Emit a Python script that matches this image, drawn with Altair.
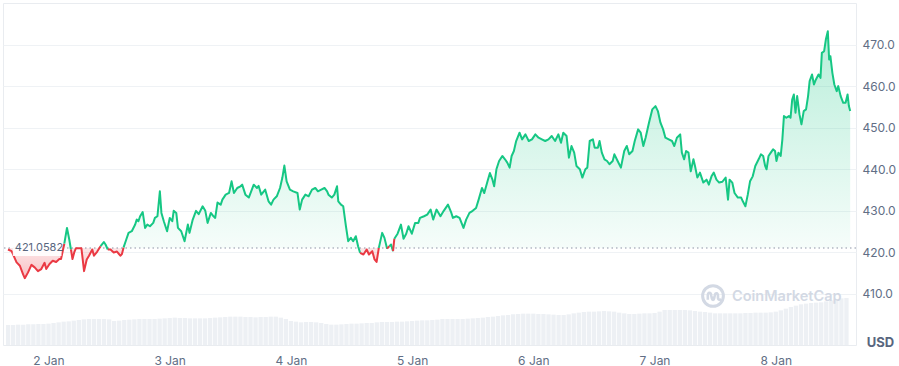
import altair as alt
import pandas as pd

BASE = 421.0582
GREEN = "#16c784"
RED = "#ea3943"
LABEL = "#616e85"

# hours since 1 Jan 00:00
hours = [15.98,16.70,17.68,18.33,18.97,19.30,19.95,20.62,21.26,21.91,22.57,23.22,23.55,24.20,24.84,25.51,26.15,26.48,27.13,27.66,28.11,28.44,28.75,29.09,29.42,30.07,30.52,31.04,31.57,32.02,32.67,33.00,33.65,34.31,34.96,35.29,35.74,36.27,36.91,37.56,38.22,38.54,38.87,39.40,39.85,40.49,41.16,41.47,41.80,42.14,42.65,43.12,43.57,44.09,44.74,45.07,45.57,46.05,46.36,46.83,47.48,48.01,48.51,48.79,49.30,49.63,50.28,50.94,51.59,51.92,52.56,53.21,53.74,54.52,55.05,55.50,56.15,56.67,57.01,57.46,58.10,58.43,59.08,59.75,60.25,60.72,61.37,62.01,62.35,62.99,63.66,64.64,65.28,65.61,66.12,66.91,67.57,68.08,68.55,69.20,69.84,70.31,70.70,71.15,71.80,72.46,73.30,73.75,74.22,74.87,75.51,76.18,76.83,77.35,78.00,78.65,79.17,79.43,80.09,80.60,81.13,81.38,81.91,82.36,82.89,83.34,83.87,84.32,84.85,85.30,85.69,86.36,87.00,87.45,88.11,88.56,88.96,89.41,90.07,90.52,91.05,91.50,91.83,92.22,92.48,93.12,93.79,94.30,94.83,95.28,95.94,96.59,97.23,97.56,98.35,98.99,99.66,100.17,100.83,101.61,102.26,103.10,103.77,104.08,104.74,105.39,106.17,106.70,107.35,107.99,108.66,109.17,109.83,110.28,110.93,111.40,111.91,112.24,112.69,113.22,113.86,114.39,114.84,115.31,115.70,116.15,116.60,117.27,117.78,118.44,119.09,119.73,120.40,121.04,121.69,122.35,123.00,123.64,124.31,124.95,125.48,125.93,126.58,127.05,127.56,128.09,128.54,129.21,129.71,130.30,130.69,131.16,131.80,132.14,132.78,133.11,133.56,134.09,134.60,135.07,135.71,136.05,136.69,137.34,138.00,138.51,138.98,139.63,140.08,140.75,141.26,141.78,142.23,142.90,143.55,144.19,144.66,145.17,145.70,146.15,146.81,147.46,147.91,148.43,149.08,149.41,149.86,150.25,150.72,151.17,151.70,152.01,152.48,152.99,153.66,154.30,154.75,155.28,155.73,156.26,156.79,157.43,158.08,158.55,158.86,159.39,159.84,160.50,161.15,161.48,161.99,162.46,162.91,163.44,163.95,164.61,165.06,165.51,165.90,166.18,166.57,167.02,167.47,167.86,168.14,168.53,168.98,169.31,169.62,170.09,170.60,170.93,171.26,171.58,171.91,172.24,172.70,173.09,173.54,174.00,174.40,174.71,175.18,175.57,175.96,176.47,176.86,177.13,177.58,177.92,178.31,178.57,178.82,179.21,179.60,180.07,180.38,180.85,181.36,181.83,182.22,182.48,182.74]

prices = [420.7,420.3,417.6,416.8,414.7,413.8,415.2,417.0,416.4,415.5,416.0,417.5,416.0,417.2,418.0,417.7,418.4,418.4,422.1,425.9,423.1,420.7,418.4,420.0,421.0,421.0,421.0,415.5,418.3,419.2,420.7,419.2,420.2,421.5,422.5,421.9,420.7,420.7,420.0,420.2,419.2,419.6,421.2,423.1,424.7,425.1,426.7,427.9,427.5,428.7,429.7,425.9,426.7,426.3,427.1,428.3,428.7,434.7,429.5,427.5,425.1,428.3,427.5,430.0,429.5,425.9,425.1,422.7,426.7,424.7,427.9,430.0,429.2,431.1,430.0,427.1,429.5,428.7,428.3,432.0,431.5,432.7,433.9,434.3,437.1,434.3,435.5,435.9,436.3,433.9,433.2,436.3,435.5,436.0,433.9,435.1,432.3,431.5,432.7,433.5,435.5,438.0,440.9,437.1,435.1,434.7,434.3,430.3,432.7,433.9,433.5,435.1,435.5,434.7,435.1,435.5,434.7,433.9,433.2,433.9,435.9,432.3,431.5,431.1,426.3,422.7,423.5,422.7,423.9,421.5,419.9,419.5,420.7,419.5,420.3,418.3,417.7,421.1,424.7,423.5,420.9,421.5,421.9,420.3,423.3,424.5,426.7,423.3,424.5,426.3,424.5,427.1,427.1,428.3,428.7,429.1,430.3,427.9,430.3,428.7,430.0,431.5,429.5,428.3,428.7,428.3,425.9,427.9,429.5,430.0,430.7,432.7,435.5,434.3,437.1,439.1,437.5,435.9,440.0,442.0,443.2,442.4,441.6,440.4,443.2,444.4,446.8,448.8,447.2,448.4,446.8,447.2,448.4,447.6,447.2,446.8,447.2,448.0,446.8,448.4,446.4,448.8,448.0,442.8,445.6,444.0,440.8,440.0,438.0,440.0,440.4,446.8,447.2,445.2,445.2,446.8,444.0,442.4,442.0,441.2,442.0,443.6,442.0,440.4,444.4,445.6,443.6,444.4,446.8,449.6,448.8,445.6,447.6,451.2,454.4,455.2,454.0,451.2,449.6,447.6,447.2,446.8,445.6,447.6,448.4,444.0,442.4,444.4,444.0,439.5,442.4,440.8,438.0,439.2,436.8,437.5,436.3,438.3,439.2,437.5,436.8,437.0,438.0,432.7,437.5,436.8,434.3,433.2,433.2,432.3,431.1,433.9,437.1,438.3,440.8,442.4,443.6,443.2,440.8,440.0,443.2,444.0,444.8,444.4,442.0,444.0,443.2,447.2,452.8,452.4,452.8,452.4,456.8,458.0,453.6,457.6,453.2,450.8,454.0,454.4,457.6,461.2,462.8,460.4,461.6,462.8,462.0,468.0,468.4,471.2,473.2,466.4,467.2,463.2,460.4,458.8,460.0,457.6,456.0,456.0,458.0,455.2,454.0]

# hourly volume bars (hours 16..182)
vol_hours = list(range(16, 183))
volumes = [60,60,61,61,
           62,62,63,63,64, 66,68,70,71,73, 75,77,78,78,78, 78,77,72,73,75,
           76,77,78,78,78, 78,79,80,81,82, 81,81,80,80,80, 80,81,82,83,84,
           85,85,85,84,84, 83,84,84,85,85, 82,78,72,70,68, 69,69,68,66,63,
           61,61,62,63,64, 64,65,66,66,68, 69,69,69,70,70, 71,72,73,74,74,
           75,76,78,78,78, 78,78,79,80,81, 82,84,85,87,89, 90,92,93,94,94,
           94,93,93,92,91, 90,90,92,95,97, 99,100,100,101,102, 101,100,97,95,93,
           93,94,95,95,96, 100,105,105,105,105, 105,104,102,100,99, 97,95,95,95,95,
           95,95,96,96,97, 97,97,98,100,104, 109,114,118,122,124, 126,127,128,131,134,
           138,140,141]

day_ticks = [24, 48, 72, 96, 120, 144, 168]
price_ticks = [410, 420, 430, 440, 450, 460, 470]
X_DOMAIN = [15.98, 182.9]
Y_DOMAIN = [397.73, 480]

pts = list(zip(hours, prices))
sides = ["up" if p >= BASE else "down" for _, p in pts]

# area table
df = pd.DataFrame({"h": [h for h, _ in pts], "p": [p for _, p in pts]})
df["up"] = df["p"].clip(lower=BASE)
df["dn"] = df["p"].clip(upper=BASE)
df["base"] = BASE

# line table: each run of one side is a path; a run also reaches the next point
line_rows = []
seg = 0
for i, (h, p) in enumerate(pts):
    if i > 0 and sides[i] != sides[i - 1]:
        # close previous run at this point
        line_rows.append(dict(h=h, p=p, side=sides[i - 1], seg=seg))
        seg += 1
    line_rows.append(dict(h=h, p=p, side=sides[i], seg=seg))
ldf = pd.DataFrame(line_rows)

vdf = pd.DataFrame({"h": vol_hours[:len(volumes)], "v": volumes[:len(vol_hours)]})

x_enc = alt.X("h:Q",
              scale=alt.Scale(domain=X_DOMAIN, nice=False, zero=False),
              axis=alt.Axis(values=day_ticks,
                            labelExpr="(floor(datum.value/24)+1) + ' Jan'",
                            grid=False, ticks=False, domain=False,
                            labelColor=LABEL, labelFontSize=12, labelPadding=10,
                            labelFont="Inter", title=None))
y_scale = alt.Scale(domain=Y_DOMAIN, nice=False, zero=False)

y_axis = alt.Axis(orient="right", values=price_ticks, format=".1f",
                  grid=True, gridColor="#eff2f5", gridWidth=1,
                  ticks=False, domain=False, labelColor=LABEL,
                  labelFontSize=12, labelFont="Inter", labelPadding=6,
                  title="USD", titleAngle=0, titleX=24, titleY=339,
                  titleAlign="center", titleBaseline="middle",
                  titleFontSize=13, titleFontWeight="bold", titleColor="#58667e",
                  titleFont="Inter")

base = alt.Chart(df)

green_area = base.mark_area(
    clip=True,
    color=alt.Gradient(gradient="linear",
                       stops=[alt.GradientStop(color="rgba(22,199,132,0.30)", offset=0),
                              alt.GradientStop(color="rgba(22,199,132,0.04)", offset=1)],
                       x1=1, x2=1, y1=0, y2=1)
).encode(x=x_enc, y=alt.Y("up:Q", scale=y_scale, axis=y_axis), y2="base:Q")

red_area = base.mark_area(
    clip=True,
    color=alt.Gradient(gradient="linear",
                       stops=[alt.GradientStop(color="rgba(234,57,67,0.12)", offset=0),
                              alt.GradientStop(color="rgba(234,57,67,0.32)", offset=1)],
                       x1=1, x2=1, y1=0, y2=1)
).encode(x=x_enc, y=alt.Y("dn:Q", scale=y_scale), y2="base:Q")

rule = alt.Chart(pd.DataFrame({"b": [BASE]})).mark_rule(
    strokeDash=[1.5, 3], color="#8d94a6", strokeWidth=1.2
).encode(y=alt.Y("b:Q", scale=y_scale))

line = alt.Chart(ldf).mark_line(clip=True, strokeWidth=2, strokeJoin="round").encode(
    x=x_enc,
    y=alt.Y("p:Q", scale=y_scale),
    color=alt.Color("side:N", scale=alt.Scale(domain=["up", "down"], range=[GREEN, RED]), legend=None),
    detail="seg:N",
    order="h:Q",
)

lab = pd.DataFrame({"x0": [X_DOMAIN[0] + 0.95], "x1": [X_DOMAIN[0] + 10.6],
                    "y0": [BASE - 1.9], "y1": [BASE + 1.9], "b": [BASE],
                    "t": [f"{BASE:.4f}"]})
label_bg = alt.Chart(lab).mark_rect(color="white", opacity=0.9).encode(
    x="x0:Q", x2="x1:Q", y=alt.Y("y0:Q", scale=y_scale), y2="y1:Q")
label_txt = alt.Chart(lab).mark_text(align="left", baseline="middle", dx=2,
                                     fontSize=11, font="Inter", color="#58667e").encode(
    x="x0:Q", y=alt.Y("b:Q", scale=y_scale), text="t:N")

price = alt.layer(green_area, red_area, rule, line, label_bg, label_txt)

volume = alt.Chart(vdf).mark_bar(size=4.3, color="#edf0f4", clip=True).encode(
    x=x_enc,
    y=alt.Y("v:Q", scale=alt.Scale(domain=[0, 1026], nice=False), axis=None),
)

wm = pd.DataFrame({"t": ["CoinMarketCap"]})
wm_text = alt.Chart(wm).mark_text(align="left", baseline="middle", fontSize=14.5,
                                  font="Inter", fontWeight=600, color="#d3d9e4").encode(
    x=alt.value(729), y=alt.value(294), text="t:N")
logo_ring = alt.Chart(wm).mark_point(shape="circle", filled=False, size=430,
                                     stroke="#d3d9e4", strokeWidth=3, opacity=1).encode(
    x=alt.value(710), y=alt.value(293))
wave = ("M -0.5 0.35 L -0.5 -0.05 C -0.5 -0.4 -0.2 -0.4 -0.17 -0.05 L -0.1 0.25 "
        "C -0.05 0.42 0.08 0.42 0.1 0.25 L 0.17 -0.05 C 0.22 -0.35 0.48 -0.35 0.48 0.0 "
        "L 0.48 0.2 C 0.5 0.38 0.65 0.4 0.78 0.3")
logo_wave = alt.Chart(wm).mark_point(shape=wave, filled=False, size=430,
                                     stroke="#d3d9e4", strokeWidth=2.6, opacity=1).encode(
    x=alt.value(710), y=alt.value(293))

chart = alt.layer(volume, logo_ring, logo_wave, wm_text, price).resolve_scale(
    y="independent"
).properties(
    width=853, height=342,
    autosize=alt.AutoSizeParams(type="none"),
    padding={"left": 3, "top": 3, "right": 43, "bottom": 21},
    background="white",
).configure_view(stroke="#e9ecf0", strokeWidth=1)

chart.save("out.html", embed_options={"renderer": "svg", "actions": False})
